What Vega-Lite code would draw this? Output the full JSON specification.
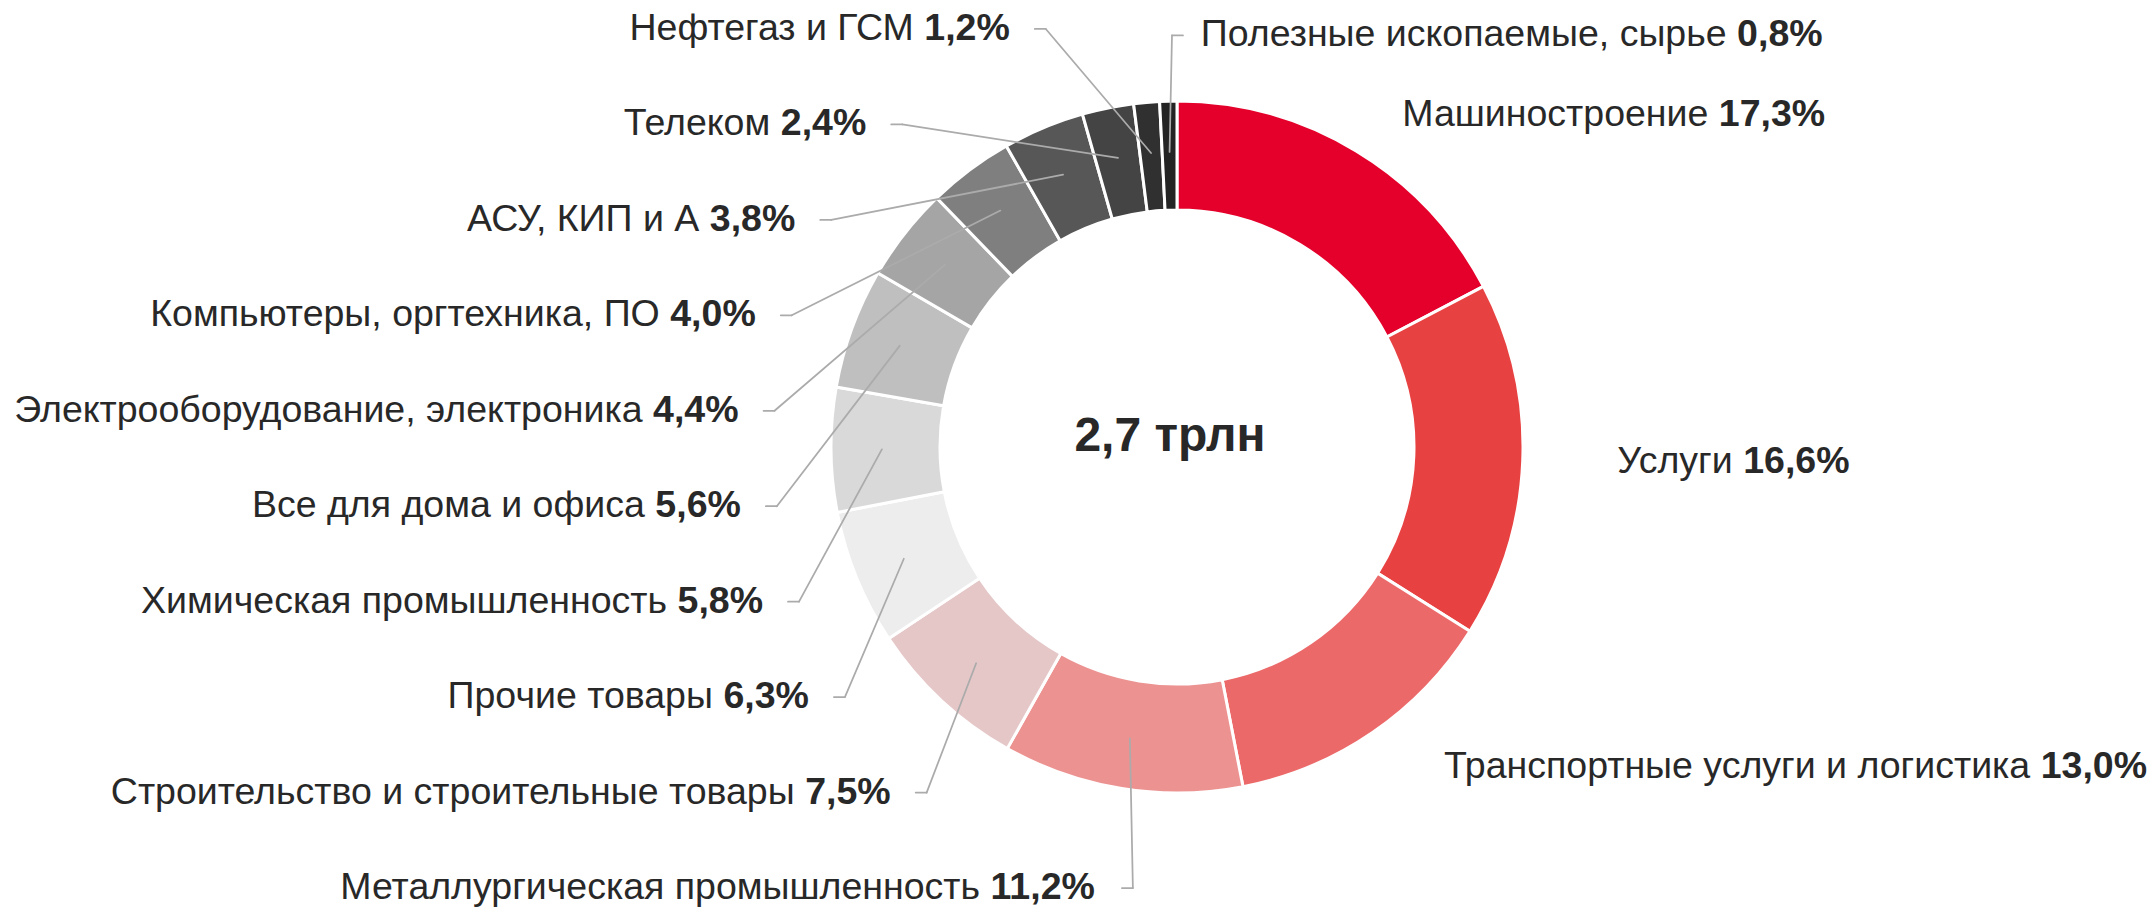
{
  "$schema": "https://vega.github.io/schema/vega-lite/v6.json",
  "width": 2151,
  "height": 909,
  "autosize": {"type": "fit", "contains": "padding"},
  "padding": 0,
  "background": "#ffffff",
  "config": {"view": {"stroke": null}, "text": {"font": "Liberation Sans"}},
  "layer": [
    {
      "data": {
        "values": [
          {"name": "Машиностроение", "pct": 17.3},
          {"name": "Услуги", "pct": 16.6},
          {"name": "Транспортные услуги и логистика", "pct": 13.0},
          {"name": "Металлургическая промышленность", "pct": 11.2},
          {"name": "Строительство и строительные товары", "pct": 7.5},
          {"name": "Прочие товары", "pct": 6.3},
          {"name": "Химическая промышленность", "pct": 5.8},
          {"name": "Все для дома и офиса", "pct": 5.6},
          {"name": "Электрооборудование, электроника", "pct": 4.4},
          {"name": "Компьютеры, оргтехника, ПО", "pct": 4.0},
          {"name": "АСУ, КИП и А", "pct": 3.8},
          {"name": "Телеком", "pct": 2.4},
          {"name": "Нефтегаз и ГСМ", "pct": 1.2},
          {"name": "Полезные ископаемые, сырье", "pct": 0.8}
        ]
      },
      "transform": [
        {"window": [{"op": "row_number", "as": "idx"}, {"op": "sum", "field": "pct", "as": "cum"}]},
        {"joinaggregate": [{"op": "sum", "field": "pct", "as": "total"}]},
        {"calculate": "2*PI*(datum.cum - datum.pct/2)/datum.total", "as": "mid"},
        {"calculate": "datum.mid > PI && datum.mid < 1.98*PI ? 'left' : 'right'", "as": "side"},
        {"window": [{"op": "row_number", "as": "rk"}], "groupby": ["side"], "sort": [{"field": "mid", "order": "descending"}]},
        {"joinaggregate": [{"op": "count", "as": "n"}], "groupby": ["side"]},
        {"calculate": "datum.side == 'left' ? 1.2081 - (datum.rk - 1) * 2.4827 / (datum.n - 1) : (datum.pct < 12 ? 1.19 : 1.12) * cos(datum.mid)", "as": "ly"},
        {"calculate": "datum.side == 'left' ? -1.199 * sqrt(max(0, 1 - pow(datum.ly / 1.286, 2))) : max(1.19 * sin(datum.mid), 0.0173)", "as": "hx"},
        {"calculate": "replace(format(datum.pct, '.1f'), '.', ',') + '%'", "as": "pctStr"},
        {"calculate": "37.5 * ((length(datum.pctStr) - 2) * 0.556 + 1.167)", "as": "pctW"},
        {"calculate": "37.5 * (0.53 * length(datum.name) + 0.2 * (length(datum.name) - length(replace(datum.name, regexp('[жмшщыюфЖМШЩЮФ]', 'g'), ''))) - 0.25 * (length(datum.name) - length(replace(datum.name, regexp('[ ,]', 'g'), ''))))", "as": "nameW"},
        {"calculate": "datum.side == 'left' ? datum.hx - (35.5 + datum.pctW) / 346 : datum.hx + (25 + datum.nameW) / 346", "as": "nameX"},
        {"calculate": "datum.nameX + 10.5 / 346", "as": "pctX"},
        {"calculate": "0.853 * sin(datum.mid)", "as": "p1x"},
        {"calculate": "0.853 * cos(datum.mid)", "as": "p1y"},
        {"calculate": "datum.hx + (datum.side == 'left' ? 11 : -11) / 346", "as": "p2x"}
      ],
      "layer": [
        {
          "mark": {"type": "arc", "innerRadius": 237, "outerRadius": 346, "stroke": "#ffffff", "strokeWidth": 3},
          "encoding": {
            "theta": {"field": "pct", "type": "quantitative", "stack": true},
            "order": {"field": "idx", "type": "quantitative"},
            "color": {
              "field": "name",
              "type": "nominal",
              "legend": null,
              "scale": {
                "domain": ["Машиностроение", "Услуги", "Транспортные услуги и логистика", "Металлургическая промышленность", "Строительство и строительные товары", "Прочие товары", "Химическая промышленность", "Все для дома и офиса", "Электрооборудование, электроника", "Компьютеры, оргтехника, ПО", "АСУ, КИП и А", "Телеком", "Нефтегаз и ГСМ", "Полезные ископаемые, сырье"],
                "range": ["#E4002B", "#E84142", "#EC696A", "#EC9291", "#E5C7C8", "#EDEDED", "#D9D9D9", "#BFBFBF", "#A5A5A5", "#7F7F7F", "#575757", "#444444", "#303030", "#242424"]
              }
            },
            "x": {"datum": 0, "type": "quantitative", "scale": {"domain": [-3.40173, 2.81503], "nice": false, "zero": false}, "axis": null},
            "y": {"datum": 0, "type": "quantitative", "scale": {"domain": [-1.33526, 1.29191], "nice": false, "zero": false}, "axis": null}
          }
        },
        {
          "transform": [{"filter": "datum.pct < 12"}],
          "mark": {"type": "rule", "color": "#ababab", "strokeWidth": 1.75, "strokeCap": "round"},
          "encoding": {
            "x": {"field": "p1x", "type": "quantitative", "scale": {"domain": [-3.40173, 2.81503], "nice": false, "zero": false}, "axis": null},
            "y": {"field": "p1y", "type": "quantitative", "scale": {"domain": [-1.33526, 1.29191], "nice": false, "zero": false}, "axis": null},
            "x2": {"field": "p2x"},
            "y2": {"field": "ly"}
          }
        },
        {
          "transform": [{"filter": "datum.pct < 12"}],
          "mark": {"type": "rule", "color": "#ababab", "strokeWidth": 1.75, "strokeCap": "round"},
          "encoding": {
            "x": {"field": "p2x", "type": "quantitative", "scale": {"domain": [-3.40173, 2.81503], "nice": false, "zero": false}, "axis": null},
            "y": {"field": "ly", "type": "quantitative", "scale": {"domain": [-1.33526, 1.29191], "nice": false, "zero": false}, "axis": null},
            "x2": {"field": "hx"},
            "y2": {"field": "ly"}
          }
        },
        {
          "mark": {"type": "text", "align": "right", "baseline": "middle", "fontSize": 37.5, "color": "#282828"},
          "encoding": {
            "x": {"field": "nameX", "type": "quantitative", "scale": {"domain": [-3.40173, 2.81503], "nice": false, "zero": false}, "axis": null},
            "y": {"field": "ly", "type": "quantitative", "scale": {"domain": [-1.33526, 1.29191], "nice": false, "zero": false}, "axis": null},
            "text": {"field": "name"}
          }
        },
        {
          "mark": {"type": "text", "align": "left", "baseline": "middle", "fontSize": 37.5, "fontWeight": "bold", "color": "#282828"},
          "encoding": {
            "x": {"field": "pctX", "type": "quantitative", "scale": {"domain": [-3.40173, 2.81503], "nice": false, "zero": false}, "axis": null},
            "y": {"field": "ly", "type": "quantitative", "scale": {"domain": [-1.33526, 1.29191], "nice": false, "zero": false}, "axis": null},
            "text": {"field": "pctStr"}
          }
        }
      ]
    },
    {
      "data": {"values": [{"t": "2,7 трлн"}]},
      "mark": {"type": "text", "align": "center", "baseline": "middle", "fontSize": 48, "fontWeight": "bold", "color": "#282828", "dx": -7, "dy": -10},
      "encoding": {
        "x": {"datum": 0, "type": "quantitative", "scale": {"domain": [-3.40173, 2.81503], "nice": false, "zero": false}, "axis": null},
        "y": {"datum": 0, "type": "quantitative", "scale": {"domain": [-1.33526, 1.29191], "nice": false, "zero": false}, "axis": null},
        "text": {"field": "t"}
      }
    }
  ]
}
